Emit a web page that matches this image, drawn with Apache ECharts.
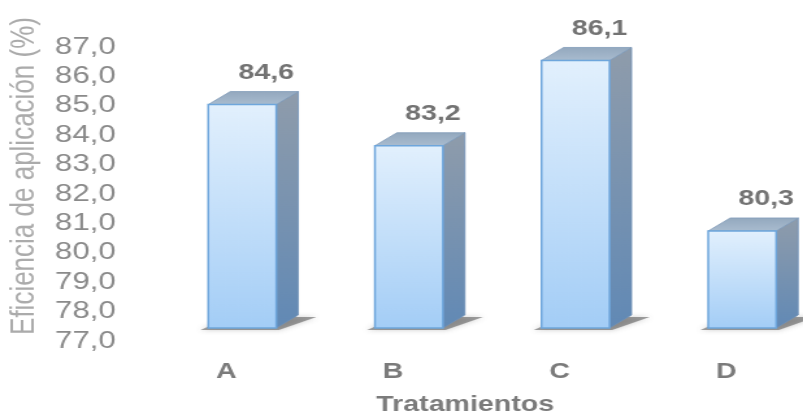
<!DOCTYPE html>
<html>
<head>
<meta charset="utf-8">
<title>Eficiencia de aplicación por tratamiento</title>
<script src="https://cdn.jsdelivr.net/npm/echarts@6/dist/echarts.min.js"></script>
<style>
  html, body { margin: 0; padding: 0; background: #ffffff; overflow: hidden; }
  /* the chart is laid out on a narrower canvas and widened horizontally */
  #chart { width: 618px; height: 416px; transform: scaleX(1.2994); transform-origin: 0 0; }
</style>
</head>
<body>
<div id="chart"></div>
<script>
// Treatments and their application efficiency (%)
const categories = ['A', 'B', 'C', 'D'];
const efficiency = [84.6, 83.2, 86.1, 80.3];

// Value axis range and step
const yMin = 77;
const yMax = 87;
const yStep = 1;

const fmt = v => v.toFixed(1).replace('.', ',');

const chart = echarts.init(document.getElementById('chart'), null, { renderer: 'canvas' });

function renderBox(params, api) {
  const idx = api.value(0);
  const v = api.value(1);
  const band = api.size([1, 0])[0];
  const topPt = api.coord([idx, v]);
  const base = api.coord([idx, yMin])[1];
  const top = topPt[1];
  const fl = topPt[0] - band * 0.108;   // front face left edge
  const fw = band * 0.408;              // front face width
  const dx = band * 0.132;              // depth offset, horizontal
  const dy = -13;                       // depth offset, vertical
  const fr = fl + fw;

  return {
    type: 'group',
    children: [
      {
        // floor shadow
        type: 'polygon',
        shape: { points: [[fl - 6, base + 2], [fr + 2, base + 2], [fr + dx + 14, base + dy + 2], [fl + dx, base + dy + 2]] },
        style: { fill: 'rgba(70,70,70,0.5)', shadowBlur: 5, shadowColor: 'rgba(70,70,70,0.55)' },
        z2: 0
      },
      {
        // side face
        type: 'polygon',
        shape: { points: [[fr, top], [fr + dx, top + dy], [fr + dx, base + dy], [fr, base]] },
        style: {
          fill: new echarts.graphic.LinearGradient(0, 0, 0, 1, [
            { offset: 0, color: '#8f9cab' },
            { offset: 1, color: '#6189b5' }
          ]),
          stroke: '#6f91b8', lineWidth: 0.8
        },
        z2: 1
      },
      {
        // top face
        type: 'polygon',
        shape: { points: [[fl, top], [fl + dx, top + dy], [fr + dx, top + dy], [fr, top]] },
        style: {
          fill: new echarts.graphic.LinearGradient(0, 0, 0, 1, [
            { offset: 0, color: '#93a8be' },
            { offset: 1, color: '#a9bccf' }
          ]),
          stroke: '#829cb9', lineWidth: 0.8
        },
        z2: 1
      },
      {
        // front face
        type: 'rect',
        shape: { x: fl, y: top, width: fw, height: base - top },
        style: {
          fill: new echarts.graphic.LinearGradient(0, 0, 0, 1, [
            { offset: 0, color: '#e2f0fd' },
            { offset: 1, color: '#a3cdf6' }
          ]),
          stroke: '#6ea6dc', lineWidth: 1.5
        },
        z2: 2
      },
      {
        // value label above the box
        type: 'text',
        x: fl + fw / 2 + band * 0.144,
        y: top - 32,
        style: {
          text: fmt(v),
          fill: '#737373',
          font: 'bold 22px "Liberation Sans", Arial, sans-serif',
          align: 'center',
          verticalAlign: 'middle'
        },
        z2: 3
      }
    ]
  };
}

chart.setOption({
  animation: false,
  backgroundColor: '#ffffff',
  grid: { left: 110, top: 34, bottom: 88, width: 513, outerBoundsMode: 'none' },
  xAxis: {
    type: 'category',
    data: categories,
    axisLine: { show: false },
    axisTick: { show: false },
    axisLabel: {
      margin: 33,
      color: '#7b7b7b',
      fontSize: 22,
      fontWeight: 'bold',
      fontFamily: '"Liberation Sans", Arial, sans-serif'
    },
    name: 'Tratamientos',
    nameLocation: 'middle',
    nameGap: 66,
    nameTextStyle: {
      color: '#7b7b7b',
      fontSize: 22,
      fontWeight: 'bold',
      fontFamily: '"Liberation Sans", Arial, sans-serif',
      padding: [0, 17, 0, 0]
    }
  },
  yAxis: {
    type: 'value',
    min: yMin,
    max: yMax,
    interval: yStep,
    axisLine: { show: false },
    axisTick: { show: false },
    splitLine: { show: false },
    axisLabel: {
      formatter: v => fmt(v),
      margin: 21,
      color: '#8a8a8a',
      fontSize: 24,
      fontFamily: '"Liberation Sans", Arial, sans-serif',
      verticalAlign: 'top',
      lineHeight: 26
    },
    name: 'Eficiencia de aplicación (%)',
    nameLocation: 'middle',
    nameGap: 75,
    nameTextStyle: {
      color: '#ababab',
      fontSize: 26,
      fontFamily: '"Liberation Sans", Arial, sans-serif',
      padding: [0, 0, 0, 10]
    }
  },
  series: [{
    type: 'custom',
    renderItem: renderBox,
    data: efficiency.map((v, i) => [i, v]),
    encode: { x: 0, y: 1 },
    clip: false
  }]
});
</script>
</body>
</html>
